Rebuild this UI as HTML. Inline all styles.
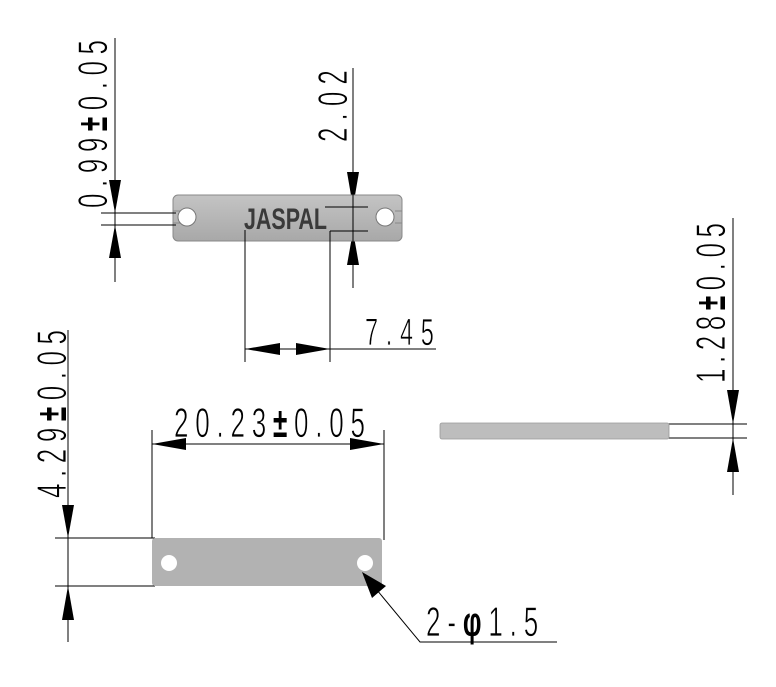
<!DOCTYPE html>
<html><head><meta charset="utf-8"><style>html,body{margin:0;padding:0;background:#fff}svg{display:block}</style></head>
<body>
<svg width="776" height="687" viewBox="0 0 776 687" xmlns="http://www.w3.org/2000/svg" font-family="'Liberation Sans', sans-serif">
<defs>
<linearGradient id="pg" x1="0" y1="0" x2="0" y2="1"><stop offset="0" stop-color="#c4c4c4"/><stop offset="1" stop-color="#a8a8a8"/></linearGradient>
</defs>
<g stroke="#000" stroke-width="1" fill="none">
<line x1="115" y1="38" x2="115" y2="282"/>
<line x1="101" y1="213" x2="176" y2="213"/>
<line x1="101" y1="225" x2="176" y2="225"/>
<line x1="353" y1="68" x2="353" y2="288"/>
<line x1="325" y1="207" x2="368" y2="207"/>
<line x1="330" y1="231" x2="368" y2="231"/>
<line x1="245" y1="233" x2="245" y2="362"/>
<line x1="330" y1="231" x2="330" y2="362"/>
<line x1="245" y1="349" x2="436" y2="349"/>
<line x1="68" y1="330" x2="68" y2="642"/>
<line x1="55" y1="538" x2="155" y2="538"/>
<line x1="55" y1="586" x2="155" y2="586"/>
<line x1="152" y1="430" x2="152" y2="538"/>
<line x1="384" y1="430" x2="384" y2="540"/>
<line x1="152" y1="444" x2="384" y2="444"/>
<polyline points="362,572 420,642 557,642"/>
<line x1="733" y1="218" x2="733" y2="495"/>
<line x1="668" y1="424" x2="747" y2="424"/>
<line x1="668" y1="438" x2="747" y2="438"/>
</g>
<g fill="#000">
<polygon points="115,213 109,180 121,180"/>
<polygon points="115,225 109,258 121,258"/>
<polygon points="353,207 347,172 359,172"/>
<polygon points="353,231 347,265 359,265"/>
<polygon points="245,349 280,343 280,355"/>
<polygon points="330,349 296,343 296,355"/>
<polygon points="68,538 62,505 74,505"/>
<polygon points="68,586 62,620 74,620"/>
<polygon points="152,444 186,438 186,450"/>
<polygon points="384,444 350,438 350,450"/>
<polygon points="733,424 727,390 739,390"/>
<polygon points="733,438 727,472 739,472"/>
</g>
<rect x="173" y="195" width="229" height="46" rx="5" fill="url(#pg)" stroke="#888" stroke-width="1"/>
<line x1="173" y1="211" x2="180" y2="211" stroke="#888"/><line x1="173" y1="223" x2="180" y2="223" stroke="#888"/>
<line x1="395" y1="211" x2="402" y2="211" stroke="#888"/><line x1="395" y1="223" x2="402" y2="223" stroke="#888"/>
<circle cx="187" cy="217" r="9" fill="#fff" stroke="#777"/>
<circle cx="385" cy="217" r="9" fill="#fff" stroke="#777"/>
<text x="244" y="229" font-size="30" font-weight="bold" fill="#3a3a3a" textLength="83" lengthAdjust="spacingAndGlyphs">JASPAL</text>
<g stroke="#000" stroke-width="1"><line x1="101" y1="213" x2="176" y2="213"/><line x1="101" y1="225" x2="176" y2="225"/><line x1="325" y1="207" x2="368" y2="207"/><line x1="330" y1="231" x2="368" y2="231"/><line x1="353" y1="190" x2="353" y2="250"/><line x1="245" y1="230" x2="245" y2="245"/><line x1="330" y1="231" x2="330" y2="245"/></g>
<rect x="152" y="538" width="230" height="48" rx="3" fill="#b2b2b2"/>
<circle cx="169" cy="563" r="8" fill="#fff"/>
<circle cx="365" cy="563" r="8" fill="#fff"/>
<polygon points="362,572 372,598 386,586" fill="#000"/>
<rect x="440" y="423" width="229" height="16" rx="2" fill="#bdbdbd" stroke="#999" stroke-width="0.8"/>
<g fill="#000" font-size="42" stroke="#fff" stroke-width="0.8">
<text transform="translate(107,208) rotate(-90) scale(0.62,1)" textLength="271" lengthAdjust="spacing">0.99<tspan font-weight="bold" stroke="none">±</tspan>0.05</text>
<text transform="translate(347,142) rotate(-90) scale(0.62,1)" textLength="116" lengthAdjust="spacing">2.02</text>
<text transform="translate(66,498) rotate(-90) scale(0.62,1)" textLength="271" lengthAdjust="spacing">4.29<tspan font-weight="bold" stroke="none">±</tspan>0.05</text>
<text transform="translate(725,383) rotate(-90) scale(0.62,1)" textLength="258" lengthAdjust="spacing">1.28<tspan font-weight="bold" stroke="none">±</tspan>0.05</text>
<text transform="translate(365,345) scale(0.62,1)" font-size="38" textLength="111" lengthAdjust="spacing">7.45</text>
<text transform="translate(174,437) scale(0.62,1)" textLength="308" lengthAdjust="spacing">20.23<tspan font-weight="bold" stroke="none">±</tspan>0.05</text>
<text transform="translate(426,636) scale(0.62,1)" textLength="181" lengthAdjust="spacing">2-<tspan font-weight="bold" stroke="none">φ</tspan>1.5</text>
</g>
</svg>
</body></html>
